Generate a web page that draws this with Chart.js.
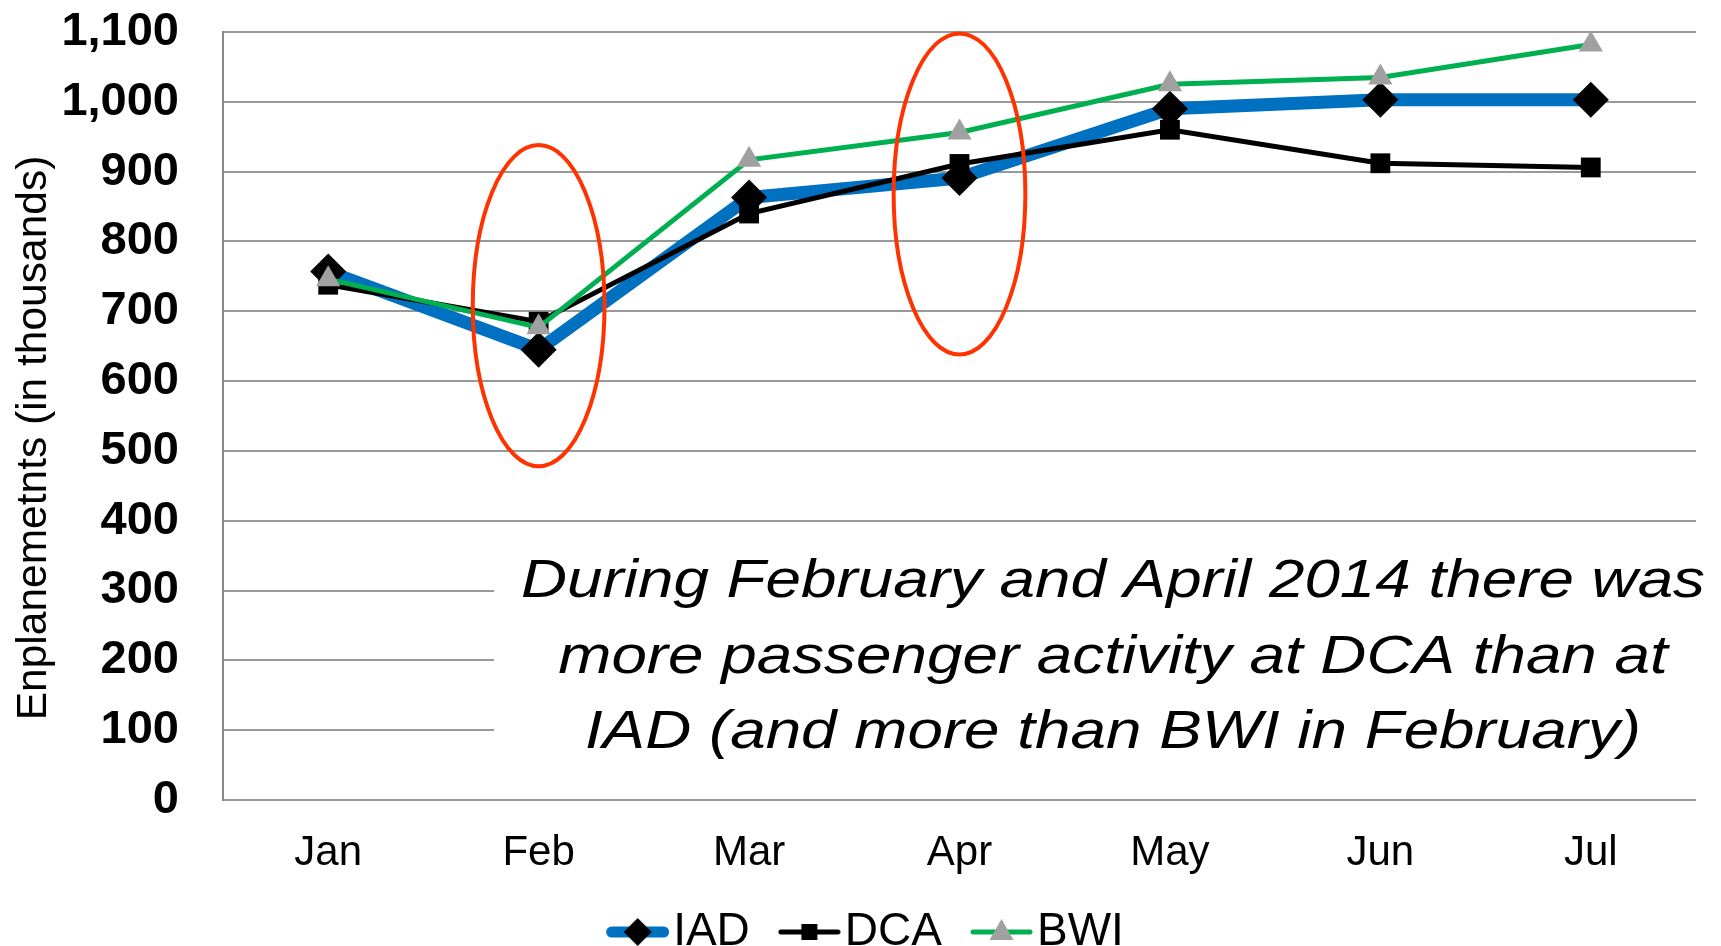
<!DOCTYPE html>
<html>
<head>
<meta charset="utf-8">
<script src="https://cdn.jsdelivr.net/npm/chart.js@4.4.0/dist/chart.umd.min.js"></script>
<style>
  html, body { margin: 0; padding: 0; background: #fff; }
  #wrap { width: 1721px; height: 946px; position: relative; }
</style>
</head>
<body>
<div id="wrap"><canvas id="c" width="1721" height="946"></canvas></div>
<script>
// ---- data ----
const months = ['Jan', 'Feb', 'Mar', 'Apr', 'May', 'Jun', 'Jul'];
const iadValues = [757, 645, 863, 891, 990, 1003, 1003];
const dcaValues = [738, 685, 840, 911, 960, 912, 906];
const bwiValues = [746, 677, 917, 956, 1025, 1035, 1082];
const seriesNames = ['IAD', 'DCA', 'BWI'];
const yMin = 0, yMax = 1100, yStep = 100;
const yTitle = 'Enplanemetnts (in thousands)';
const noteLines = [
  'During February and April 2014 there was',
  'more passenger activity at DCA than at',
  'IAD (and more than BWI in February)'
];
// highlighted months (ellipse centre value and half-height, in data units)
const highlightMonths = ['Feb', 'Apr'];
const highlightCenters = [708, 868];
const highlightHalfSpan = [230, 230];

// ---- styles ----
const BLUE = '#0070C0', GREEN = '#00B050', GRAYMARK = '#A0A0A0', RED = '#FF3300';
const FONT = '"Liberation Sans", Arial, sans-serif';

function legendImage(kind) {
  const W = 100, H = 40, cy = 20;
  const c = document.createElement('canvas');
  c.width = W; c.height = H;
  const g = c.getContext('2d');
  const x0 = 37, x1 = 100;
  const mx = (x0 + x1) / 2;
  g.lineCap = 'round';
  if (kind === 'IAD') {
    g.strokeStyle = BLUE; g.lineWidth = 11;
    g.beginPath(); g.moveTo(x0 + 5.5, cy); g.lineTo(x1 - 5.5, cy); g.stroke();
    g.fillStyle = '#000';
    g.beginPath(); g.moveTo(mx, cy - 14); g.lineTo(mx + 14, cy); g.lineTo(mx, cy + 14); g.lineTo(mx - 14, cy); g.closePath(); g.fill();
  } else if (kind === 'DCA') {
    g.strokeStyle = '#000'; g.lineWidth = 5;
    g.beginPath(); g.moveTo(x0 + 3, cy); g.lineTo(x1 - 3, cy); g.stroke();
    g.fillStyle = '#000'; g.fillRect(mx - 8, cy - 8, 16, 16);
  } else {
    g.strokeStyle = GREEN; g.lineWidth = 5;
    g.beginPath(); g.moveTo(x0 + 3, cy); g.lineTo(x1 - 3, cy); g.stroke();
    g.fillStyle = GRAYMARK;
    g.beginPath(); g.moveTo(mx, cy - 13); g.lineTo(mx + 12, cy + 8); g.lineTo(mx - 12, cy + 8); g.closePath(); g.fill();
  }
  return c;
}

const noteBoxPlugin = {
  id: 'noteBox',
  beforeDatasetsDraw(chart) {
    const { ctx, chartArea } = chart;
    const left = 494, right = chartArea.right + 20, top = 545, bottom = 775;
    ctx.save();
    ctx.fillStyle = '#fff';
    ctx.fillRect(left, top, right - left, bottom - top);
    ctx.fillStyle = '#000';
    ctx.font = 'italic 54px ' + FONT;
    ctx.textAlign = 'center';
    ctx.textBaseline = 'middle';
    const target = 1184;
    const w = ctx.measureText(noteLines[0]).width;
    const sx = target / w;
    const cx = 1113;
    const ys = [582, 658, 733];
    noteLines.forEach((t, i) => {
      ctx.save();
      ctx.translate(cx, ys[i]);
      ctx.scale(sx, 1);
      ctx.fillText(t, 0, 0);
      ctx.restore();
    });
    ctx.restore();
  }
};

const ellipsePlugin = {
  id: 'ellipses',
  afterDatasetsDraw(chart) {
    const { ctx, scales } = chart;
    const xs = scales.x, ys = scales.y;
    const rx = 0.313 * (xs.getPixelForValue(1) - xs.getPixelForValue(0));
    ctx.save();
    ctx.strokeStyle = RED;
    ctx.lineWidth = 4;
    highlightMonths.forEach((m, i) => {
      const cx = xs.getPixelForValue(months.indexOf(m));
      const cy = ys.getPixelForValue(highlightCenters[i]);
      const ry = Math.abs(ys.getPixelForValue(highlightCenters[i] + highlightHalfSpan[i]) - cy);
      ctx.beginPath();
      ctx.ellipse(cx, cy, rx, ry, 0, 0, Math.PI * 2);
      ctx.stroke();
    });
    ctx.restore();
  }
};

// shifts the y-axis title slightly, as in the source
const titleShiftPlugin = {
  id: 'titleShift',
  beforeDraw(chart) {
    const y = chart.scales.y;
    if (y && !y._titlePatched) {
      const orig = y.drawTitle;
      y.drawTitle = function () {
        this.ctx.save();
        this.ctx.translate(-16, 22);
        orig.apply(this, arguments);
        this.ctx.restore();
      };
      y._titlePatched = true;
    }
  }
};

Chart.defaults.color = '#000';
Chart.defaults.font.family = FONT;

const legendImgs = { IAD: legendImage('IAD'), DCA: legendImage('DCA'), BWI: legendImage('BWI') };

new Chart(document.getElementById('c'), {
  type: 'line',
  data: {
    labels: months,
    datasets: [
      { label: seriesNames[0], data: iadValues, order: 3,
        borderColor: BLUE, borderWidth: 13, backgroundColor: '#000',
        pointStyle: 'rectRot', pointRadius: 18, pointBackgroundColor: '#000', pointBorderWidth: 0,
        tension: 0, borderJoinStyle: 'round' },
      { label: seriesNames[1], data: dcaValues, order: 2,
        borderColor: '#000', borderWidth: 5, backgroundColor: '#000',
        pointStyle: 'rect', pointRadius: 14, pointBackgroundColor: '#000', pointBorderWidth: 0,
        tension: 0 },
      { label: seriesNames[2], data: bwiValues, order: 1,
        borderColor: GREEN, borderWidth: 5, backgroundColor: GRAYMARK,
        pointStyle: 'triangle', pointRadius: 14, pointBackgroundColor: GRAYMARK, pointBorderWidth: 0,
        tension: 0 }
    ]
  },
  options: {
    responsive: false,
    animation: false,
    events: [],
    layout: { padding: { top: 32, right: 25, bottom: -19, left: 16 } },
    scales: {
      x: {
        type: 'category',
        offset: true,
        grid: { display: false, drawTicks: false },
        border: { display: false },
        ticks: { font: { size: 42 }, padding: 28, color: '#000' },
        afterFit: (s) => { s.height = 99; s.paddingLeft = 0; s.paddingRight = 0; }
      },
      y: {
        min: yMin, max: yMax,
        grid: { color: '#999', lineWidth: 2, drawTicks: false },
        border: { display: true, color: '#888', width: 2 },
        ticks: {
          stepSize: yStep, padding: 44, color: '#000',
          font: { size: 47, weight: 'bold' },
          callback: (v) => v.toLocaleString('en-US')
        },
        title: { display: true, text: yTitle, font: { size: 42.5 }, color: '#000', padding: { top: 9, bottom: 0 } },
        afterFit: (s) => { s.width = 207; s.paddingTop = 0; s.paddingBottom = 0; }
      }
    },
    plugins: {
      legend: {
        position: 'bottom',
        labels: {
          usePointStyle: true,
          pointStyleWidth: 62,
          padding: 10,
          font: { size: 46 },
          color: '#000',
          sort: (a, b) => a.datasetIndex - b.datasetIndex,
          generateLabels: (chart) => {
            const items = Chart.defaults.plugins.legend.labels.generateLabels(chart);
            items.forEach(it => { it.pointStyle = legendImgs[it.text]; });
            return items;
          }
        }
      },
      tooltip: { enabled: false }
    }
  },
  plugins: [noteBoxPlugin, ellipsePlugin, titleShiftPlugin]
});
</script>
</body>
</html>
